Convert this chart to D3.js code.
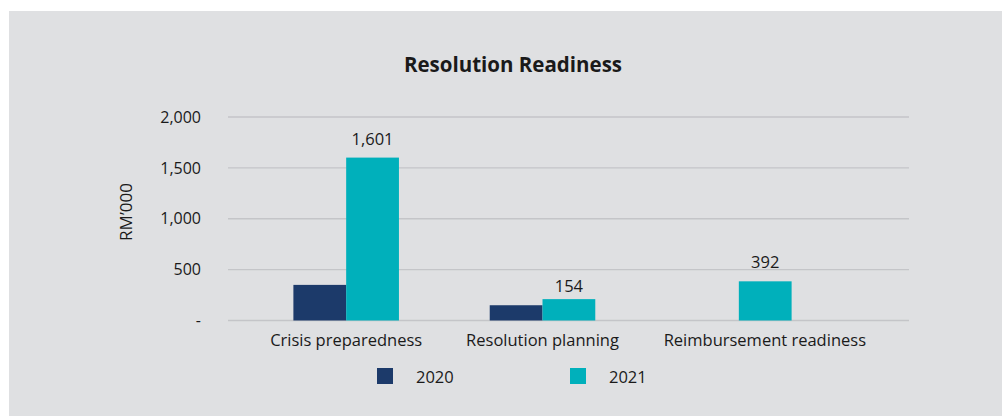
<!DOCTYPE html>
<html>
<head>
<meta charset="utf-8">
<script src="https://cdn.jsdelivr.net/npm/d3@7"></script>
<style>
  html, body { margin: 0; padding: 0; background: #ffffff; }
  svg { display: block; }
  text { font-family: "Open Sans", "Noto Sans", sans-serif; fill: #1a1a1a; }
</style>
</head>
<body>
<script>
const categories = ['Crisis preparedness', 'Resolution planning', 'Reimbursement readiness'];
const seriesNames = ['2020', '2021'];
const values2020 = [350, 150, 0];
const values2021 = [1601, 210, 385];
const labels2021 = [1601, 154, 392];
const yTicks = [0, 500, 1000, 1500, 2000];

document.addEventListener('DOMContentLoaded', () => {
  drawChart();
});

const drawChart = () => {
  const dimension = {width: 1002, height: 416};
  const colors = {'2020': '#1c3a6a', '2021': '#00b0bb'};

  const svg = d3.select('body')
    .append('svg')
    .attr('width', dimension.width)
    .attr('height', dimension.height);

  svg.append('rect')
    .attr('x', 9)
    .attr('y', 11)
    .attr('width', dimension.width - 9)
    .attr('height', dimension.height - 11)
    .attr('fill', '#dfe0e2');

  svg.append('text')
    .attr('x', 513)
    .attr('y', 72)
    .attr('text-anchor', 'middle')
    .style('font-size', '20.5px')
    .style('font-weight', 'bold')
    .text('Resolution Readiness');

  const yScale = d3.scaleLinear()
    .domain([0, 2000])
    .range([320.5, 117]);

  const xScale = d3.scaleBand()
    .domain(categories)
    .range([248, 837])
    .paddingInner(0)
    .paddingOuter(0);

  const xSub = d3.scaleBand()
    .domain(seriesNames)
    .range([0, xScale.bandwidth()])
    .paddingInner(0)
    .paddingOuter(0.86);

  // gridlines
  svg.append('g')
    .attr('id', 'grid')
    .selectAll('line')
    .data(yTicks)
    .enter()
    .append('line')
    .attr('x1', 228)
    .attr('x2', 909)
    .attr('y1', d => yScale(d))
    .attr('y2', d => yScale(d))
    .attr('stroke', '#c4c5c8')
    .attr('stroke-width', 1.3);

  const yAxis = svg.append('g')
    .attr('id', 'y-axis')
    .attr('transform', 'translate(201, 0)')
    .call(d3.axisLeft(yScale)
      .tickValues(yTicks)
      .tickSize(0)
      .tickPadding(0)
      .tickFormat(d => d === 0 ? '-' : d3.format(',')(d)));
  yAxis.select('.domain').remove();
  yAxis.selectAll('text')
    .style('font-size', '16px')
    .attr('fill', '#1a1a1a');

  svg.append('text')
    .attr('transform', 'translate(132, 212) rotate(-90)')
    .attr('text-anchor', 'middle')
    .style('font-size', '17px')
    .text('RM\u2019000');

  const rows = categories.map((c, i) => ({
    category: c,
    bars: [
      {series: '2020', value: values2020[i]},
      {series: '2021', value: values2021[i]}
    ]
  }));

  const groups = svg.append('g')
    .attr('id', 'bars')
    .selectAll('g')
    .data(rows)
    .enter()
    .append('g')
    .attr('transform', d => `translate(${xScale(d.category)}, 0)`);

  groups.selectAll('rect')
    .data(d => d.bars.filter(b => b.value > 0))
    .enter()
    .append('rect')
    .attr('x', d => xSub(d.series))
    .attr('y', d => yScale(d.value))
    .attr('width', xSub.bandwidth())
    .attr('height', d => yScale(0) - yScale(d.value))
    .attr('fill', d => colors[d.series]);

  // data labels for 2021
  svg.append('g')
    .attr('id', 'labels')
    .selectAll('text')
    .data(categories)
    .enter()
    .append('text')
    .attr('x', (d, i) => xScale(d) + xSub('2021') + xSub.bandwidth() / 2)
    .attr('y', (d, i) => yScale(labels2021[i]) - 13)
    .attr('text-anchor', 'middle')
    .style('font-size', '16.5px')
    .text((d, i) => d3.format(',')(labels2021[i]));

  // category labels
  const labelOffset = [0, 0, 26];
  svg.append('g')
    .attr('id', 'x-axis')
    .selectAll('text')
    .data(categories)
    .enter()
    .append('text')
    .attr('x', (d, i) => xScale(d) + xScale.bandwidth() / 2 + labelOffset[i])
    .attr('y', 346)
    .attr('text-anchor', 'middle')
    .style('font-size', '16.5px')
    .text(d => d);

  // legend
  const legend = svg.append('g')
    .attr('id', 'legend')
    .selectAll('g')
    .data(seriesNames)
    .enter()
    .append('g')
    .attr('transform', (d, i) => `translate(${377 + i * 193}, 368)`);

  legend.append('rect')
    .attr('width', 16)
    .attr('height', 16)
    .attr('fill', d => colors[d]);

  legend.append('text')
    .attr('x', 39)
    .attr('y', 15)
    .style('font-size', '16.5px')
    .text(d => d);
};
</script>
</body>
</html>
